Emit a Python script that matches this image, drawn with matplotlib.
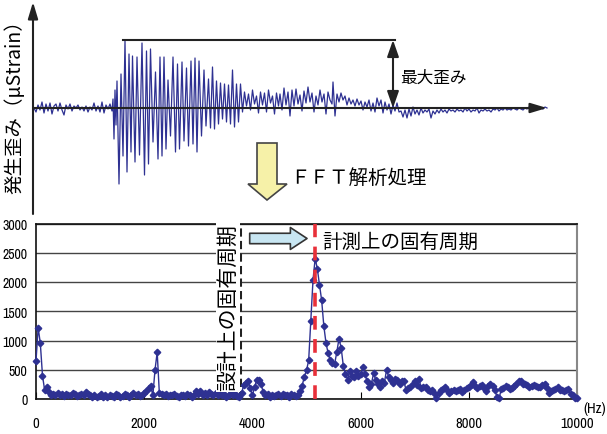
import numpy as np
import matplotlib
matplotlib.use('Agg')
import matplotlib.pyplot as plt
from matplotlib.patches import Polygon
from matplotlib import font_manager as fm

plt.rcParams['font.family'] = ['Noto Sans CJK JP', 'DejaVu Sans']

# pick a narrow font file for the numeric labels if one is installed
_narrow = None
for f in fm.fontManager.ttflist:
    if ('Narrow' in f.name or 'Condensed' in f.name):
        if f.style == 'normal' and f.weight in (400, 'normal', 'regular'):
            _narrow = f.fname
            break
if _narrow is None:
    for f in fm.fontManager.ttflist:
        if 'Condensed' in f.fname and 'Bold' not in f.fname and 'Oblique' not in f.fname:
            _narrow = f.fname
            break


def num_font(size):
    if _narrow:
        return fm.FontProperties(fname=_narrow, size=size)
    return fm.FontProperties(family='Liberation Sans', size=size - 0.7)


# ---------------- data: time-domain strain record (schematic) ----------------
sig_t = [34, 36, 38, 40, 42, 44, 46, 48, 50, 52,
         54, 56, 58, 60, 62, 64, 66, 68, 70, 72,
         74, 76, 78, 80, 82, 84, 86, 88, 90, 92,
         94, 96, 98, 100, 102, 104, 106, 108, 110, 112,
         113, 114, 115, 116, 117, 119, 121, 123, 125, 127,
         129, 131, 132.5, 135, 137, 139.5, 142, 144.5, 146.5, 148.5,
         150.5, 153, 155.5, 158, 160, 162, 164, 166, 168, 170.5,
         173, 175.5, 177.5, 179.5, 182, 184, 186.5, 188.5, 191, 193,
         195, 197, 199, 201.5, 204, 206, 208.5, 210.5, 212.5, 214.5,
         216.5, 218.5, 220.5, 222.5, 224.5, 226.5, 228.5, 230.5, 232.5, 234.5,
         236.5, 238.5, 240.5, 242.5, 244.5, 246.5, 248.5, 250.5, 252.5, 254.5,
         256.5, 258.5, 260.5, 262.5, 264.5, 266.5, 268.5, 270.5, 272.5, 274.5,
         276.5, 278.5, 280, 282, 284, 286, 288, 290, 292, 294,
         296, 298, 300, 302, 304, 306, 308, 310, 312, 314,
         316, 318, 320, 322, 324, 326, 328, 330, 332, 333,
         335, 337, 339, 341, 343, 345, 347, 349, 351, 353,
         355, 357, 359, 361, 363, 365, 367, 369, 371, 373,
         375, 377, 379, 381, 383, 385, 387, 389, 391, 393,
         395, 397, 399, 401, 403, 405, 407, 409, 411, 413,
         415, 417, 419, 421, 423, 425, 427, 429, 431, 433,
         435, 437, 439, 441, 443, 445, 447, 449, 451, 453,
         455, 457, 459, 461, 463, 465, 467, 469, 471, 473,
         475, 477, 479, 481, 483, 485, 487, 489, 491, 493,
         495, 497, 499, 501, 503, 505, 507, 509, 511, 513,
         515, 517, 519, 521, 523, 525, 527, 529, 531, 533,
         535, 537, 539, 541, 543, 545, 547]
sig_v = [0, -4, 3, -2, 6, -5, 4, -3, 5, -6,
         2, 4, -3, 5, -2, -7, 3, -1, 4, -3,
         2, 0, 3, -2, 1, -3, 2, -4, 1, -2,
         5, -3, 2, -4, 6, -5, 3, -1, 4, -3,
         9, -31, 18, -17, 27, -76, 34, -48, 68, -64,
         54, -44, 52, -54, 51, -47, 65, -67, 57, -56,
         59, -34, 36, -51, 51, -48, 51, -41, 28, -28,
         51, -44, 44, -41, 46, -33, 40, -38, 47, -36,
         50, -44, 47, -28, 38, -18, 29, -20, 41, -21,
         27, -16, 25, -11, 24, -14, 23, -16, 38, -19,
         24, -14, 24, -4, 16, 2, 14, -2, 18, 4,
         12, -5, 16, 3, 15, -4, 18, 5, 12, -6,
         15, 2, 14, -2, 20, 3, 16, -8, 18, 2,
         19, 4, 13, -3, 17, 5, 21, 6, 15, -4,
         12, 3, 18, 6, 14, -6, 16, 8, 4, 26,
         -8, 14, 6, 15, 8, 12, 3, 10, 4, 8,
         2, 9, 3, 7, -2, 6, 1, 8, -3, 5,
         -4, 10, 2, 8, -5, 6, -2, 4, -6, 3,
         -3, 5, -4, -3, -9, -2, -10, -1, -8, 1,
         -6, -2, -7, 0, -5, -2, -4, -1, -10, -3,
         -6, -2, -5, -1, -4, -2, -5, -1, -3, -2,
         -4, -1, -3, -2, -4, 0, -3, -1, -4, -2,
         -3, 0, -5, -2, -3, -1, -3, -2, -4, -1,
         -2, 0, -3, -1, -2, 0, -2, -1, -2, 0,
         -1, -2, 0, -1, -2, 0, -1, 1, -1, 0,
         -2, 1, -1, 0, -1, 1, 0]
max_strain = 68

# ---------------- data: FFT spectrum (40 Hz bins, 0 .. 10000 Hz) ----------------
freq_step = 40
spec_vals = [
    650, 1220, 950, 400, 150, 200, 120, 60, 90, 70, 110, 60, 80, 50, 90, 70, 60, 100, 80, 50, 70, 90, 60, 120, 80,
    60, 40, 70, 30, 50, 80, 40, 60, 30, 70, 50, 40, 80, 60, 30, 50, 90, 60, 40, 70, 100, 60, 80, 50, 70,
    100, 140, 190, 220, 60, 500, 800, 100, 80, 60, 90, 50, 70, 60, 80, 50, 40, 70, 60, 50, 80, 60, 40, 70, 130,
    90, 130, 70, 100, 60, 120, 80, 60, 100, 70, 90, 60, 80, 40, 70, 100, 60, 80, 50, 40, 100, 240, 280, 300, 180,
    60, 200, 330, 320, 250, 120, 60, 80, 40, 70, 50, 60, 80, 50, 90, 60, 70, 40, 80, 60, 50, 60, 130, 230, 380,
    490, 660, 1340, 2030, 2400, 2230, 1950, 1690, 1250, 960, 780, 660, 620, 600, 800, 1030, 880, 570, 430, 330, 480, 400, 370, 480, 390,
    420, 540, 430, 300, 200, 260, 440, 320, 250, 200, 310, 280, 500, 370, 320, 280, 340, 330, 260, 300, 310, 150, 190, 210, 260,
    300, 240, 350, 180, 200, 200, 150, 130, 150, 100, 10, 100, 150, 170, 200, 160, 110, 130, 150, 140, 160, 170, 120, 150, 180,
    200, 240, 290, 230, 190, 220, 240, 180, 140, 220, 260, 230, 150, 40, 10, 170, 190, 230, 200, 170, 180, 230, 260, 300, 300,
    260, 250, 240, 200, 230, 240, 220, 200, 210, 240, 260, 190, 110, 130, 150, 170, 200, 160, 150, 130, 160, 170, 80, 60, 20,
    10]
freq = np.arange(len(spec_vals)) * freq_step

design_freq = 3780
measured_freq = 5150
y_ticks = [0, 500, 1000, 1500, 2000, 2500, 3000]
x_ticks = [0, 2000, 4000, 6000, 8000, 10000]

# ---------------- figure ----------------
W, H = 607, 435
fig = plt.figure(figsize=(W / 100, H / 100), dpi=100)


def rect(x0, y0, x1, y1):
    return [x0 / W, 1 - y1 / H, (x1 - x0) / W, (y1 - y0) / H]


# ---- top schematic ----
ax1 = fig.add_axes(rect(0, 0, 607, 217))
ax1.set_xlim(0, 607)
ax1.set_ylim(-108, 109)
ax1.axis('off')
navy = '#2e3192'
ax1.plot(sig_t, sig_v, color=navy, lw=0.9, zorder=2)

axis_col = '#222222'
ax1.annotate('', xy=(33, 106), xytext=(33, -106),
             arrowprops=dict(arrowstyle='-|>,head_length=1.0,head_width=0.3', color=axis_col,
                             lw=1.5, shrinkA=0, shrinkB=0, mutation_scale=10))
ax1.annotate('', xy=(547, 0), xytext=(33, 0),
             arrowprops=dict(arrowstyle='-|>,head_length=1.0,head_width=0.3', color=axis_col,
                             lw=1.5, shrinkA=0, shrinkB=0, mutation_scale=10), zorder=3)
ax1.plot([123, 395], [max_strain, max_strain], color=axis_col, lw=1.5)
ax1.annotate('', xy=(393, max_strain), xytext=(393, 0),
             arrowprops=dict(arrowstyle='<|-|>,head_length=1.0,head_width=0.35', color=axis_col,
                             lw=1.5, shrinkA=0, shrinkB=0, mutation_scale=10))
ax1.text(400, 31, '最大歪み', fontsize=12, ha='left', va='center')
ax1.text(15, 7, '発生歪み（μStrain）', fontsize=14, rotation=90, ha='center', va='center')

# yellow down arrow
arr = [(257, 144), (277, 144), (277, 185), (287, 185), (267, 201), (248, 185), (257, 185)]
ax1.add_patch(Polygon([(x, 109 - y) for x, y in arr], closed=True, fc='#f6f1a8', ec='#444444', lw=1.2))
ax1.text(290, 109 - 178, 'ＦＦＴ解析処理', fontsize=14, ha='left', va='center')

# ---- bottom spectrum ----
ax2 = fig.add_axes(rect(36, 224.5, 577, 400))
ax2.set_xlim(0, 10000)
ax2.set_ylim(0, 3000)
ax2.set_yticks(y_ticks)
ax2.set_xticks(x_ticks)
ax2.yaxis.grid(True, color='#444444', lw=1.0)
ax2.set_axisbelow(True)
for s in ['left', 'bottom', 'top']:
    ax2.spines[s].set_color('#111111')
    ax2.spines[s].set_linewidth(1.2)
ax2.spines['right'].set_color('#888888')
ax2.spines['right'].set_linewidth(1.5)
ax2.tick_params(axis='y', length=0, pad=6)
ax2.tick_params(axis='x', direction='in', length=5, pad=12)
for lab in ax2.get_yticklabels():
    lab.set_fontproperties(num_font(10))
for lab in ax2.get_xticklabels():
    lab.set_fontproperties(num_font(10.5))

ax2.plot(freq, spec_vals, '-', color=navy, lw=1.0, marker='D', ms=3.3,
         mec=navy, mfc=navy, clip_on=False, zorder=4)

ax2.axvline(design_freq, color='#222222', lw=2.2, dashes=(2.7, 1.4), zorder=3)
ax2.axvline(measured_freq, color='#e8303a', lw=2.6, dashes=(3.8, 2.6), zorder=5)

ax2.text(3549, 1575, '設計上の固有周期', fontsize=15, rotation=90, ha='center', va='center',
         bbox=dict(fc='white', ec='none', pad=1), zorder=4)
ax2.annotate('', xy=(5010, 2744), xytext=(3950, 2744),
             arrowprops=dict(arrowstyle='simple,head_length=0.8,head_width=1.05,tail_width=0.5',
                             mutation_scale=15, fc='#c8e6f2', ec='#333333', lw=1.2,
                             shrinkA=0, shrinkB=0))
ax2.text(5287, 2693, '計測上の固有周期', fontsize=14, ha='left', va='center')

fig.text(583 / W, 1 - 409 / H, '(Hz)', fontproperties=num_font(10.5), ha='left', va='center')

fig.savefig('out.png', dpi=100)
